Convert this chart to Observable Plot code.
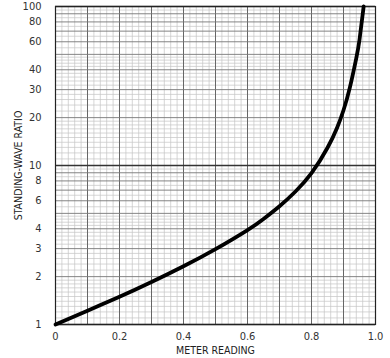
<!DOCTYPE html>
<html>
<head>
<meta charset="utf-8">
<script src="https://cdn.jsdelivr.net/npm/d3@7"></script>
<script src="https://cdn.jsdelivr.net/npm/@observablehq/plot@0.6"></script>
<style>
  html, body { margin: 0; padding: 0; background: #fff; }
  svg { display: block; }
</style>
</head>
<body>
<div id="chart"></div>
<script>
// Meter reading (x) vs standing-wave ratio (y)
const meterReading = [0, 0.1, 0.2, 0.3, 0.4, 0.5, 0.6, 0.65, 0.7, 0.75, 0.8, 0.85, 0.88, 0.9, 0.92, 0.94, 0.95, 0.963];
const swr          = [1, 1.222, 1.493, 1.849, 2.323, 2.979, 3.926, 4.613, 5.546, 6.864, 8.944, 12.93, 17.29, 22.26, 31.0, 47.4, 61.7, 100];

const xTicks = [0, 0.2, 0.4, 0.6, 0.8, 1.0];
const xTickLabels = ["0", "0.2", "0.4", "0.6", "0.8", "1.0"];
const yTicks = [1, 2, 3, 4, 6, 8, 10, 20, 30, 40, 60, 80, 100];
const yTickLabels = ["1", "2", "3", "4", "6", "8", "10", "20", "30", "40", "60", "80", "100"];

const xLabel = "METER READING";
const yLabel = "STANDING-WAVE RATIO";

// graph-paper rulings
const xMajor = d3.range(0, 11).map(i => i / 10);
const xMinor = d3.range(0, 51).map(i => i / 50).filter(v => Math.round(v * 50) % 5 !== 0);
const yDecade = [1, 10, 100];
const yMajor = [2,3,4,5,6,7,8,9,20,30,40,50,60,70,80,90];
const yMinor = [];
for (const dec of [1, 10]) {
  d3.range(1.1, 2.0, 0.1).forEach(v => yMinor.push(+(v * dec).toFixed(3)));
  d3.range(2.2, 5.0, 0.2).forEach(v => { if (Math.abs(v - Math.round(v)) > 0.01) yMinor.push(+(v * dec).toFixed(3)); });
  [5.5, 6.5, 7.5, 8.5, 9.5].forEach(v => yMinor.push(+(v * dec).toFixed(3)));
}

const data = meterReading.map((x, i) => ({x, y: swr[i]}));
const font = "'Liberation Sans Narrow', 'DejaVu Sans Condensed', 'Arial Narrow', sans-serif";

const chart = Plot.plot({
  width: 390,
  height: 358,
  marginLeft: 55,
  marginRight: 15,
  marginTop: 6,
  marginBottom: 34,
  style: { fontFamily: font, fontSize: "11px", color: "#333", background: "#fff" },
  x: { domain: [0, 1], axis: null },
  y: { type: "log", domain: [1, 100], axis: null },
  marks: [
    Plot.ruleX(xMinor, { stroke: "#c4c4c4", strokeWidth: 0.7 }),
    Plot.ruleY(yMinor, { stroke: "#c4c4c4", strokeWidth: 0.7 }),
    Plot.ruleX(xMajor, { stroke: "#666", strokeWidth: 1 }),
    Plot.ruleY(yMajor, { stroke: "#777", strokeWidth: 0.9 }),
    Plot.ruleY(yDecade, { stroke: "#333", strokeWidth: 1.4 }),
    Plot.frame({ stroke: "#222", strokeWidth: 1.2 }),
    Plot.line(data, { x: "x", y: "y", stroke: "#000", strokeWidth: 3.8, curve: "natural" }),
    Plot.text(xTicks, { x: d => d, frameAnchor: "bottom", dy: 15, text: (d, i) => xTickLabels[i], fontSize: 11, fill: "#333" }),
    Plot.text(yTicks, { y: d => d, frameAnchor: "left", dx: -14, textAnchor: "end", text: (d, i) => yTickLabels[i], fontSize: 11, fill: "#333" }),
    Plot.text([xLabel], { frameAnchor: "bottom", dy: 29, fontSize: 10.5, fill: "#222" }),
    Plot.text([yLabel], { frameAnchor: "left", dx: -37, rotate: -90, textAnchor: "middle", fontSize: 10.5, fill: "#222" })
  ]
});
document.getElementById("chart").appendChild(chart);
</script>
</body>
</html>
